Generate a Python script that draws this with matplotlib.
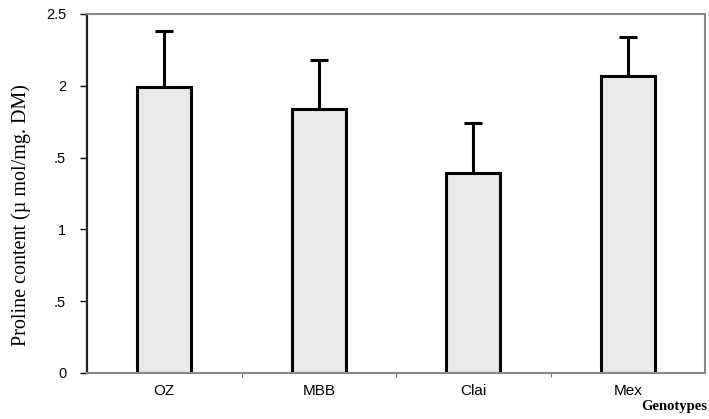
import numpy as np
import matplotlib
matplotlib.use("Agg")
from matplotlib import pyplot as plt

genotypes = ["OZ", "MBB", "Clai", "Mex"]
proline = [1.99, 1.84, 1.39, 2.07]
proline_err = [0.39, 0.34, 0.35, 0.27]
ytick_vals = [0, 0.5, 1, 1.5, 2, 2.5]
ytick_labels = ["0", ".5", "1", ".5", "2", "2.5"]

fig = plt.figure(figsize=(7.09, 4.19), dpi=100)
ax = fig.add_axes([0.1227, 0.1098, 0.8717, 0.8568])

x = np.arange(len(genotypes))
ax.bar(x, proline, width=0.35, color="#e9e9e9", edgecolor="black",
       linewidth=2.2, zorder=2)
# only the upper half of each error bar is drawn
ax.errorbar(x, proline, yerr=[np.zeros(len(proline)), proline_err],
            fmt="none", ecolor="black", elinewidth=2.2, capsize=6.5,
            capthick=2.2, zorder=1)

ax.set_xlim(-0.5, len(genotypes) - 0.5)
ax.set_ylim(0, 2.5)

ax.set_yticks(ytick_vals)
ax.set_yticklabels(ytick_labels, fontfamily="Liberation Sans", fontsize=10.5)
ax.set_xticks(x)
ax.set_xticklabels(genotypes, fontfamily="Liberation Sans", fontsize=11)
ax.set_xticks(np.arange(len(genotypes) - 1) + 0.5, minor=True)
ax.tick_params(axis="x", which="major", length=0, pad=8)
ax.tick_params(axis="x", which="minor", length=3, color="#555555")
ax.tick_params(axis="y", length=5, width=1, pad=10)

ax.spines["left"].set_color("#222222")
ax.spines["left"].set_linewidth(1.6)
for s in ["top", "right", "bottom"]:
    ax.spines[s].set_color("#888888")
    ax.spines[s].set_linewidth(1.5)

ax.set_ylabel("Proline content (\u00b5 mol/mg. DM)", fontfamily="Liberation Serif",
              fontsize=14.5)
ax.yaxis.set_label_coords(-0.09, 0.44)
fig.text(0.998, 0.03, "Genotypes", ha="right", va="center",
         fontfamily="Liberation Serif", fontweight="bold", fontsize=10.5)

fig.savefig("out.png", dpi=100)
